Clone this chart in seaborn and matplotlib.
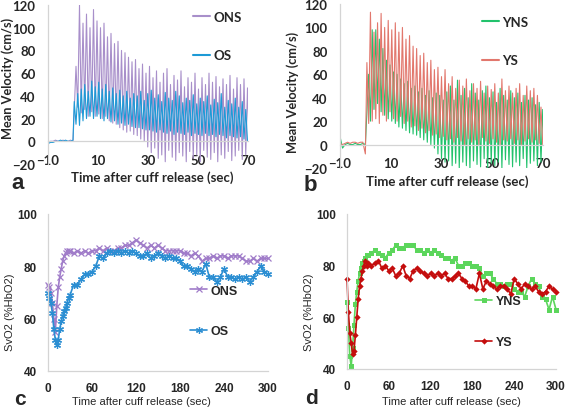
import numpy as np
import matplotlib
matplotlib.use("Agg")
import matplotlib.pyplot as plt
import seaborn as sns

# ------------------------------------------------------------------ data
vel_yticks = [-20, 0, 20, 40, 60, 80, 100, 120]
vel_xticks = [-10, 10, 30, 50, 70]
svo2_yticks = [40, 60, 80, 100]
svo2_xticks = [0, 60, 120, 180, 240, 300]

beat_period = 1.4
base_t = [-10, -9, -8, -7, -6, -5, -4, -3, -2, -1, 0]

# panel a : older subjects, velocity
ons_base = [-1, 0, 0, 1, 0, 0, 1, 0, 0, 1, 0]
ons_start = 1.2
ons_peaks = [66, 120, 104, 112, 100, 116, 106, 100, 104, 92,
             95, 86, 88, 80, 78, 74, 70, 72, 64, 68,
             60, 66, 56, 62, 52, 60, 64, 50, 58, 54,
             62, 48, 56, 52, 60, 46, 56, 50, 60, 52,
             57, 48, 55, 50, 58, 46, 56, 50, 55, 47]
ons_troughs = [30, 25, 28, 22, 26, 22, 24, 20, 22, 18,
               16, 15, 12, 10, 8, 9, 6, 5, 2, 0,
               -5, -10, -6, -15, -12, -18, -8, -14, -17, -10,
               -13, -18, -9, -15, -12, -18, -8, -14, -16, -10,
               -18, -12, -15, -9, -17, -13, -8, -16, -12, -5]

os_base = [-2, -1, -1, 0, 0, 1, 0, 1, 0, 0, 1]
os_start = 0.5
os_peaks = [35, 42, 46, 50, 44, 53, 48, 52, 46, 50,
            44, 47, 42, 45, 40, 44, 38, 42, 40, 44,
            36, 42, 45, 38, 41, 35, 43, 38, 36, 44,
            40, 34, 38, 36, 41, 33, 38, 35, 40, 32,
            37, 34, 42, 30, 36, 33, 38, 30, 35, 28]
os_troughs = [15, 14, 18, 20, 22, 20, 22, 20, 18, 20,
              17, 18, 15, 16, 14, 15, 13, 12, 12, 11,
              10, 10, 9, 8, 10, 8, 7, 9, 6, 8,
              7, 6, 8, 5, 7, 6, 5, 7, 5, 6,
              4, 6, 5, 3, 5, 4, 3, 4, 2, 0]

# panel b : younger subjects, velocity
yns_base = [7, -3, 0, 1, 0, 0, 1, 0, 0, 1, 0]
yns_start = 1.3
yns_peaks = [60, 98, 98, 90, 82, 72, 68, 62, 60, 56,
             52, 54, 48, 50, 45, 48, 42, 46, 40, 44,
             42, 38, 45, 50, 38, 55, 42, 48, 40, 52,
             44, 38, 46, 50, 40, 45, 36, 48, 42, 38,
             46, 40, 44, 36, 42, 38, 40, 34, 36, 30]
yns_troughs = [20, 30, 35, 28, 25, 22, 20, 18, 15, 14,
               12, 10, 9, 8, 6, 4, 2, 0, -3, -8,
               -12, -15, -14, -18, -16, -20, -15, -18, -20, -14,
               -17, -19, -12, -20, -16, -18, -15, -20, -13, -17,
               -19, -15, -18, -12, -20, -16, -14, -18, -15, -10]

ys_base = [1, 0, 1, 2, 1, 2, 2, 1, 2, 2, -8]
ys_start = 0.6
ys_peaks = [70, 113, 96, 104, 112, 100, 106, 98, 104, 96,
            100, 90, 93, 84, 82, 76, 78, 70, 72, 64,
            66, 58, 64, 52, 58, 48, 55, 50, 56, 46,
            52, 48, 54, 44, 50, 47, 52, 44, 56, 46,
            50, 44, 48, 52, 42, 50, 46, 48, 42, 32]
ys_troughs = [18, 20, 22, 18, 25, 20, 28, 22, 20, 24,
              18, 20, 15, 16, 12, 14, 10, 12, 8, 9,
              6, 7, 4, 5, 2, 6, 3, 0, 5, 2,
              4, 0, 6, 3, 1, 5, 2, 0, 4, 3,
              5, 1, 4, 0, 3, 5, 2, 4, 1, 0]

# panels c, d : venous oxygen saturation
svo2_t = [0, 2, 4, 6, 8, 10, 12, 14, 16, 18, 20, 22, 24, 26, 28, 30,
          35, 40, 45, 50, 55, 60, 65, 70, 75, 80,
          85, 90, 95, 100, 105, 110, 115, 120, 125, 130,
          135, 140, 145, 150, 155, 160, 165, 170, 175, 180,
          185, 190, 195, 200, 205, 210, 215, 220, 225, 230,
          235, 240, 245, 250, 255, 260, 265, 270, 275, 280,
          285, 290, 295, 300]
svo2_ons = [73, 72, 70, 66, 60, 55, 65, 72, 76, 79, 82, 84, 85, 86, 86, 86,
            85, 86, 85, 86, 85, 86, 86, 87, 86, 87,
            86, 86, 87, 87, 88, 88, 89, 90, 89, 88,
            87, 88, 87, 88, 87, 86, 86, 86, 86, 86,
            85, 85, 84, 85, 84, 82, 83, 83, 84, 83,
            84, 84, 83, 84, 84, 84, 83, 82, 82, 83,
            82, 83, 83, 83]
svo2_os = [70, 68, 66, 62, 56, 52, 50, 52, 56, 59, 61, 63, 64, 66, 68, 69,
           73, 73, 75, 77, 77, 78, 80, 84, 83, 85,
           86, 85, 86, 85, 86, 85, 86, 85, 84, 84,
           85, 83, 84, 85, 84, 83, 84, 83, 83, 82,
           80, 80, 79, 78, 79, 78, 81, 76, 76, 74,
           76, 79, 76, 76, 75, 76, 75, 76, 74, 76,
           78, 80, 78, 77]
svo2_yns = [66, 56, 45, 41, 48, 57, 65, 70, 74, 77, 79, 81, 82, 83, 84, 84,
            85, 86, 85, 84, 83, 85, 86, 88, 87, 87,
            88, 88, 88, 86, 86, 85, 86, 85, 86, 85,
            84, 83, 83, 82, 83, 80, 80, 81, 81, 80,
            80, 79, 76, 77, 77, 75, 73, 73, 72, 73,
            73, 71, 70, 70, 68, 72, 75, 73, 72, 68,
            67, 63, 68, 63]
svo2_ys = [75, 62, 54, 50, 46, 47, 53, 60, 67, 72, 75, 78, 80, 82, 80, 81,
           80, 81, 82, 79, 80, 78, 79, 76, 77, 80,
           76, 75, 78, 79, 78, 77, 76, 77, 76, 77,
           76, 77, 75, 75, 76, 77, 75, 74, 72, 72,
           71, 77, 71, 74, 73, 72, 71, 72, 72, 71,
           69, 75, 73, 71, 73, 72, 71, 72, 70, 69,
           70, 72, 71, 70]

# ------------------------------------------------------------------ style
sns.set_style("white")
plt.rcParams["font.family"] = ["Lato", "DejaVu Sans"]

W, H = 567, 410
fig = plt.figure(figsize=(W / 100, H / 100), dpi=100)


def box(left, top, right, bottom):
    return [left / W, 1 - bottom / H, (right - left) / W, (bottom - top) / H]


def pulse(base_v, start, peaks, troughs):
    n = len(peaks)
    tp = start + beat_period * np.arange(n)
    t = np.empty(2 * n)
    v = np.empty(2 * n)
    t[0::2], t[1::2] = tp, tp + beat_period / 2
    v[0::2], v[1::2] = peaks, troughs
    return (np.concatenate([base_t, t]), np.concatenate([base_v, v]))


AX_GRAY = "#d4d4d4"
TOP_FONT = ["Lato", "DejaVu Sans"]
BOT_FONT = ["Liberation Sans", "DejaVu Sans"]


def style_velocity(ax, xlab_xy, ylab_xy, axbox):
    ax.set_xlim(-10, 70)
    ax.set_ylim(-20, 120)
    ax.set_xticks(vel_xticks)
    ax.set_yticks(vel_yticks)
    for s in ["top", "right"]:
        ax.spines[s].set_visible(False)
    ax.spines["bottom"].set_position(("data", 0))
    for s in ["bottom", "left"]:
        ax.spines[s].set_color(AX_GRAY)
        ax.spines[s].set_linewidth(0.9)
    ax.tick_params(axis="x", direction="out", length=3, width=0.8,
                   color=AX_GRAY, pad=6, labelsize=9.5)
    ax.tick_params(axis="y", length=0, pad=9, labelsize=9.5)
    for lab in ax.get_xticklabels() + ax.get_yticklabels():
        lab.set_fontweight("bold")
        lab.set_family(TOP_FONT)
    l, t, r, b = axbox
    ax.set_xlabel("Time after cuff release (sec)", fontsize=9.5,
                  fontweight="bold", family=TOP_FONT, va="center")
    ax.set_ylabel("Mean Velocity (cm/s)", fontsize=9.2, fontweight="bold",
                  family=TOP_FONT, va="center")
    ax.xaxis.set_label_coords((xlab_xy[0] - l) / (r - l), (b - xlab_xy[1]) / (b - t))
    ax.yaxis.set_label_coords((ylab_xy[0] - l) / (r - l), (b - ylab_xy[1]) / (b - t))


def style_svo2(ax, xlab_xy, ylab_xy, axbox):
    ax.set_xlim(0, 300)
    ax.set_ylim(40, 100)
    ax.set_xticks(svo2_xticks)
    ax.set_yticks(svo2_yticks)
    for s in ["top", "right"]:
        ax.spines[s].set_visible(False)
    for s in ["bottom", "left"]:
        ax.spines[s].set_color(AX_GRAY)
        ax.spines[s].set_linewidth(0.9)
    ax.tick_params(axis="both", direction="out", length=4, width=0.8,
                   color=AX_GRAY, pad=4, labelsize=8.5)
    for lab in ax.get_xticklabels() + ax.get_yticklabels():
        lab.set_fontweight("bold")
        lab.set_family(BOT_FONT)
    l, t, r, b = axbox
    ax.set_xlabel("Time after cuff release (sec)", fontsize=8,
                  family=BOT_FONT, va="center")
    ax.set_ylabel("SvO2 (%HbO2)", fontsize=8, family=BOT_FONT, va="center")
    ax.xaxis.set_label_coords((xlab_xy[0] - l) / (r - l), (b - xlab_xy[1]) / (b - t))
    ax.yaxis.set_label_coords((ylab_xy[0] - l) / (r - l), (b - ylab_xy[1]) / (b - t))


# ---------------------------------------------------------------- panel a
box_a = (48, 6, 248, 165)
ax_a = fig.add_axes(box(*box_a))
t, v = pulse(ons_base, ons_start, ons_peaks, ons_troughs)
sns.lineplot(x=t, y=v, ax=ax_a, estimator=None, sort=False,
             color="#a88fca", linewidth=0.8, label="ONS")
t, v = pulse(os_base, os_start, os_peaks, os_troughs)
sns.lineplot(x=t, y=v, ax=ax_a, estimator=None, sort=False,
             color="#1d9ad6", linewidth=0.8, label="OS")
style_velocity(ax_a, (152, 178), (8, 78), box_a)
h, lb = ax_a.get_legend_handles_labels()
leg = ax_a.legend(h, lb, loc="center left", bbox_to_anchor=(0.725, 0.805),
                  frameon=False, handlelength=1.3, handletextpad=0.25,
                  labelspacing=2.0, borderpad=0, borderaxespad=0,
                  prop={"family": TOP_FONT, "weight": "bold", "size": 9.5})
for ln in leg.get_lines():
    ln.set_linewidth(1.5)

# ---------------------------------------------------------------- panel b
box_b = (340, 5, 543, 169)
ax_b = fig.add_axes(box(*box_b))
t, v = pulse(yns_base, yns_start, yns_peaks, yns_troughs)
sns.lineplot(x=t, y=v, ax=ax_b, estimator=None, sort=False,
             color="#22c26c", linewidth=0.8, label="YNS")
t, v = pulse(ys_base, ys_start, ys_peaks, ys_troughs)
sns.lineplot(x=t, y=v, ax=ax_b, estimator=None, sort=False,
             color="#e2776d", linewidth=0.8, label="YS")
style_velocity(ax_b, (447, 182), (293, 92), box_b)
h, lb = ax_b.get_legend_handles_labels()
leg = ax_b.legend(h, lb, loc="center left", bbox_to_anchor=(0.70, 0.774),
                  frameon=False, handlelength=1.3, handletextpad=0.25,
                  labelspacing=2.0, borderpad=0, borderaxespad=0,
                  prop={"family": TOP_FONT, "weight": "bold", "size": 9.5})
for ln in leg.get_lines():
    ln.set_linewidth(1.5)

# ---------------------------------------------------------------- panel c
box_c = (48, 215, 268, 372)
ax_c = fig.add_axes(box(*box_c))
c_ons, c_os = "#a07cc9", "#2b8ed2"
sns.lineplot(x=svo2_t, y=svo2_ons, ax=ax_c, estimator=None, sort=False,
             color=c_ons, linewidth=1.2, marker="x", markersize=4,
             markeredgewidth=0.9, markeredgecolor=c_ons, label="ONS",
             clip_on=False)
sns.lineplot(x=svo2_t, y=svo2_os, ax=ax_c, estimator=None, sort=False,
             color=c_os, linewidth=1.2, marker=(6, 2, 0), markersize=5,
             markeredgewidth=0.9, markeredgecolor=c_os, label="OS",
             clip_on=False)
style_svo2(ax_c, (141, 402), (10, 312), box_c)
h, lb = ax_c.get_legend_handles_labels()
ax_c.legend(h, lb, loc="center left", bbox_to_anchor=(0.645, 0.382),
            frameon=False, handlelength=1.4, handletextpad=0.25,
            labelspacing=2.3, borderpad=0, borderaxespad=0,
            prop={"family": BOT_FONT, "weight": "bold", "size": 9})

# ---------------------------------------------------------------- panel d
box_d = (347, 215, 556, 370)
ax_d = fig.add_axes(box(*box_d))
c_yns, c_ys = "#5cd65c", "#c40d0d"
sns.lineplot(x=svo2_t, y=svo2_yns, ax=ax_d, estimator=None, sort=False,
             color=c_yns, linewidth=1.2, marker="s", markersize=3.6,
             markeredgewidth=0, markeredgecolor=c_yns, label="YNS",
             clip_on=False)
sns.lineplot(x=svo2_t, y=svo2_ys, ax=ax_d, estimator=None, sort=False,
             color=c_ys, linewidth=1.2, marker="D", markersize=3.2,
             markeredgewidth=0, markeredgecolor=c_ys, label="YS",
             clip_on=False)
style_svo2(ax_d, (451, 402), (309, 312), box_d)
h, lb = ax_d.get_legend_handles_labels()
ax_d.legend(h, lb, loc="center left", bbox_to_anchor=(0.612, 0.306),
            frameon=False, handlelength=1.4, handletextpad=0.25,
            labelspacing=2.3, borderpad=0, borderaxespad=0,
            prop={"family": BOT_FONT, "weight": "bold", "size": 9})

# ---------------------------------------------------------------- letters
for letter, (x, y), size in [("a", (18, 184), 16), ("b", (310, 186), 16),
                             ("c", (20, 400), 15), ("d", (312, 399), 15)]:
    fig.text(x / W, 1 - y / H, letter, ha="center", va="center",
             fontsize=size, fontweight="bold", family=BOT_FONT)

fig.savefig("out.png", dpi=100)
